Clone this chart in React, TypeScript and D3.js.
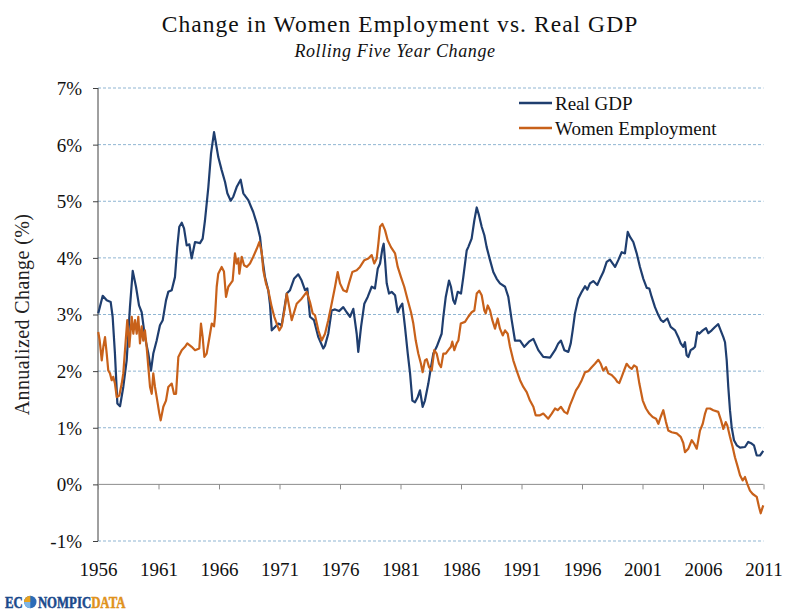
import { useRef, useEffect } from "react";
import * as d3 from "d3";

// Rolling five year annualized change (decimal year, %)
const gdpYears = [
  1956.02, 1956.39, 1956.72, 1957.05, 1957.21, 1957.4, 1957.6, 1957.82, 1958.09, 1958.37,
  1958.64, 1958.87, 1959.14, 1959.39, 1959.61, 1959.88, 1960.16, 1960.38, 1960.57, 1960.85,
  1961.12, 1961.35, 1961.62, 1961.81, 1962.09, 1962.36, 1962.55, 1962.72, 1962.92, 1963.11,
  1963.33, 1963.55, 1963.74, 1964.02, 1964.43, 1964.65, 1964.84, 1965.12, 1965.34, 1965.59,
  1965.75, 1965.94, 1966.22, 1966.5, 1966.69, 1966.97, 1967.18, 1967.46, 1967.79, 1968.01,
  1968.42, 1968.83, 1969.12, 1969.39, 1969.53, 1969.8, 1970.07, 1970.21, 1970.36, 1970.63,
  1970.9, 1971.18, 1971.6, 1971.87, 1972.2, 1972.55, 1972.83, 1973.11, 1973.3, 1973.52,
  1973.85, 1974.21, 1974.62, 1974.76, 1975.03, 1975.31, 1975.59, 1975.92, 1976.27, 1976.55,
  1976.83, 1977.1, 1977.38, 1977.51, 1977.74, 1978.01, 1978.29, 1978.62, 1978.89, 1979.12,
  1979.31, 1979.5, 1979.61, 1979.72, 1979.86, 1980.05, 1980.27, 1980.55, 1980.77, 1980.96,
  1981.15, 1981.37, 1981.6, 1981.79, 1981.98, 1982.2, 1982.42, 1982.61, 1982.83, 1983.02,
  1983.3, 1983.52, 1983.71, 1983.99, 1984.4, 1984.54, 1984.74, 1985.01, 1985.17, 1985.36,
  1985.5, 1985.73, 1986.0, 1986.19, 1986.47, 1986.6, 1986.88, 1987.1, 1987.3, 1987.49,
  1987.71, 1987.93, 1988.12, 1988.4, 1988.67, 1988.95, 1989.22, 1989.64, 1989.91, 1990.19,
  1990.46, 1990.88, 1991.23, 1991.62, 1991.98, 1992.39, 1992.8, 1993.36, 1993.77, 1994.04,
  1994.26, 1994.54, 1994.87, 1995.07, 1995.23, 1995.42, 1995.69, 1995.98, 1996.25, 1996.44,
  1996.66, 1996.93, 1997.26, 1997.49, 1997.76, 1998.04, 1998.31, 1998.54, 1998.73, 1999.0,
  1999.28, 1999.55, 1999.78, 1999.97, 2000.24, 2000.52, 2000.79, 2001.07, 2001.35, 2001.56,
  2001.76, 2002.03, 2002.31, 2002.53, 2002.72, 2003.05, 2003.33, 2003.69, 2003.96, 2004.16,
  2004.37, 2004.51, 2004.65, 2004.79, 2004.98, 2005.2, 2005.34, 2005.53, 2005.69, 2005.98,
  2006.25, 2006.44, 2006.72, 2006.99, 2007.26, 2007.46, 2007.68, 2007.82, 2007.96, 2008.09,
  2008.23, 2008.37, 2008.56, 2008.79, 2009.06, 2009.47, 2009.74, 2010.02, 2010.21, 2010.44,
  2010.71, 2010.98,
];
const gdpValues = [
  3.02, 3.33, 3.25, 3.22, 2.96, 2.31, 1.43, 1.38, 1.72, 2.19,
  3.13, 3.77, 3.49, 3.16, 3.04, 2.6, 2.31, 2.01, 2.31, 2.54,
  2.81, 2.9, 3.25, 3.4, 3.43, 3.66, 4.19, 4.55, 4.62, 4.52,
  4.22, 4.24, 3.99, 4.28, 4.26, 4.34, 4.66, 5.25, 5.84, 6.22,
  6.02, 5.78, 5.55, 5.34, 5.14, 5.01, 5.08, 5.25, 5.38, 5.14,
  5.02, 4.81, 4.61, 4.37, 4.08, 3.66, 3.43, 3.19, 2.72, 2.78,
  2.84, 2.81, 3.37, 3.43, 3.63, 3.71, 3.6, 3.43, 3.46, 2.96,
  2.9, 2.6, 2.4, 2.45, 2.66, 3.07, 3.09, 3.06, 3.13, 3.04,
  2.96, 3.1, 2.66, 2.34, 2.78, 3.19, 3.31, 3.49, 3.46, 3.81,
  3.9, 4.16, 4.25, 3.96, 3.55, 3.37, 3.4, 3.34, 3.04, 3.13,
  3.19, 2.78, 2.31, 1.96, 1.48, 1.45, 1.54, 1.66, 1.37, 1.48,
  1.78, 2.07, 2.31, 2.43, 2.66, 2.96, 3.31, 3.6, 3.49, 3.25,
  3.19, 3.4, 3.37, 3.66, 4.13, 4.19, 4.34, 4.66, 4.89, 4.75,
  4.55, 4.4, 4.19, 3.96, 3.75, 3.63, 3.55, 3.49, 3.31, 2.9,
  2.54, 2.54, 2.43, 2.52, 2.57, 2.37, 2.25, 2.24, 2.37, 2.49,
  2.54, 2.37, 2.34, 2.49, 2.72, 3.02, 3.28, 3.4, 3.5, 3.44,
  3.55, 3.59, 3.52, 3.63, 3.75, 3.93, 3.97, 3.9, 3.84, 3.96,
  4.1, 4.08, 4.46, 4.37, 4.28, 4.08, 3.84, 3.63, 3.47, 3.46,
  3.31, 3.13, 2.99, 2.9, 2.87, 2.93, 2.78, 2.72, 2.6, 2.49,
  2.43, 2.51, 2.28, 2.25, 2.37, 2.4, 2.43, 2.69, 2.66, 2.72,
  2.76, 2.67, 2.72, 2.78, 2.83, 2.72, 2.6, 2.51, 2.19, 1.72,
  1.31, 1.01, 0.78, 0.69, 0.65, 0.66, 0.75, 0.72, 0.69, 0.51,
  0.51, 0.59,
];

const womenYears = [
  1956.02, 1956.14, 1956.31, 1956.44, 1956.58, 1956.72, 1956.85, 1956.99, 1957.13, 1957.26,
  1957.4, 1957.55, 1957.76, 1957.96, 1958.09, 1958.29, 1958.42, 1958.59, 1958.79, 1958.92,
  1959.06, 1959.2, 1959.33, 1959.47, 1959.61, 1959.74, 1959.88, 1960.02, 1960.16, 1960.3,
  1960.44, 1960.57, 1960.71, 1960.85, 1961.07, 1961.18, 1961.4, 1961.62, 1961.81, 1962.09,
  1962.28, 1962.45, 1962.64, 1962.92, 1963.19, 1963.38, 1963.74, 1964.02, 1964.37, 1964.51,
  1964.65, 1964.79, 1964.98, 1965.26, 1965.4, 1965.59, 1965.67, 1965.81, 1965.94, 1966.22,
  1966.41, 1966.58, 1966.77, 1966.97, 1967.13, 1967.32, 1967.46, 1967.6, 1967.68, 1967.88,
  1968.07, 1968.29, 1968.56, 1968.83, 1969.12, 1969.33, 1969.53, 1969.66, 1969.88, 1970.07,
  1970.36, 1970.57, 1970.77, 1970.98, 1971.18, 1971.45, 1971.6, 1971.81, 1972.01, 1972.42,
  1972.83, 1973.25, 1973.52, 1973.74, 1973.93, 1974.21, 1974.49, 1974.76, 1975.03, 1975.31,
  1975.59, 1975.81, 1976.0, 1976.27, 1976.55, 1976.74, 1977.02, 1977.38, 1977.65, 1978.01,
  1978.34, 1978.62, 1978.83, 1979.03, 1979.17, 1979.31, 1979.5, 1979.72, 1979.94, 1980.21,
  1980.55, 1980.77, 1981.04, 1981.31, 1981.6, 1981.87, 1982.06, 1982.26, 1982.47, 1982.69,
  1982.83, 1983.02, 1983.17, 1983.36, 1983.58, 1983.79, 1983.99, 1984.18, 1984.35, 1984.54,
  1984.74, 1984.95, 1985.17, 1985.28, 1985.45, 1985.64, 1985.78, 1985.98, 1986.33, 1986.6,
  1986.88, 1987.1, 1987.3, 1987.51, 1987.71, 1987.93, 1988.04, 1988.21, 1988.4, 1988.59,
  1988.81, 1989.03, 1989.22, 1989.45, 1989.64, 1989.86, 1990.05, 1990.32, 1990.6, 1990.88,
  1991.15, 1991.43, 1991.7, 1991.98, 1992.17, 1992.53, 1992.8, 1993.21, 1993.5, 1993.77,
  1993.99, 1994.26, 1994.54, 1994.78, 1995.01, 1995.28, 1995.5, 1995.69, 1995.98, 1996.25,
  1996.52, 1996.8, 1997.07, 1997.35, 1997.55, 1997.76, 1997.98, 1998.17, 1998.45, 1998.73,
  1998.92, 1999.08, 1999.28, 1999.47, 1999.69, 1999.91, 2000.11, 2000.3, 2000.52, 2000.74,
  2001.02, 2001.29, 2001.56, 2001.84, 2002.12, 2002.31, 2002.5, 2002.72, 2002.94, 2003.13,
  2003.41, 2003.83, 2004.16, 2004.37, 2004.51, 2004.79, 2005.07, 2005.26, 2005.48, 2005.61,
  2005.75, 2005.98, 2006.17, 2006.31, 2006.58, 2006.85, 2007.26, 2007.49, 2007.68, 2007.88,
  2008.01, 2008.23, 2008.45, 2008.64, 2008.87, 2009.06, 2009.28, 2009.47, 2009.66, 2009.88,
  2010.11, 2010.44, 2010.63, 2010.77, 2010.98,
];
const womenValues = [
  2.69, 2.54, 2.19, 2.43, 2.6, 2.31, 2.01, 1.96, 1.84, 1.9,
  1.78, 1.54, 1.57, 1.78, 1.96, 2.54, 2.9, 2.43, 2.96, 2.66,
  2.9, 2.66, 2.96, 2.49, 2.79, 2.54, 2.72, 2.43, 2.07, 1.72,
  1.6, 1.96, 1.72, 1.54, 1.25, 1.13, 1.37, 1.48, 1.72, 1.78,
  1.6, 1.6, 2.25, 2.37, 2.43, 2.49, 2.43, 2.37, 2.4, 2.84,
  2.6, 2.25, 2.31, 2.66, 2.84, 2.79, 2.96, 3.49, 3.72, 3.84,
  3.76, 3.31, 3.49, 3.55, 3.6, 4.08, 3.9, 3.99, 3.72, 4.02,
  3.87, 3.84, 3.9, 4.02, 4.16, 4.28, 4.1, 3.78, 3.55, 3.43,
  3.13, 2.96, 2.84, 2.72, 2.79, 3.13, 3.37, 3.13, 2.9, 3.19,
  3.28, 3.4, 3.22, 3.02, 2.99, 2.72, 2.54, 2.66, 2.9, 3.19,
  3.49, 3.75, 3.55, 3.43, 3.4, 3.55, 3.75, 3.78, 3.84, 3.96,
  3.99, 4.05, 3.9, 3.99, 4.25, 4.55, 4.6, 4.49, 4.31, 4.19,
  4.08, 3.84, 3.66, 3.49, 3.25, 3.04, 2.84, 2.54, 2.31, 2.13,
  1.98, 2.19, 2.21, 2.07, 2.01, 2.37, 2.31, 2.13, 2.07, 2.31,
  2.31, 2.37, 2.43, 2.52, 2.37, 2.49, 2.54, 2.84, 2.87, 2.96,
  3.04, 3.07, 3.37, 3.42, 3.34, 3.07, 3.02, 3.16, 3.07, 2.9,
  2.75, 2.93, 2.75, 2.63, 2.72, 2.66, 2.43, 2.19, 2.01, 1.84,
  1.72, 1.63, 1.48, 1.37, 1.22, 1.22, 1.25, 1.16, 1.25, 1.34,
  1.31, 1.37, 1.28, 1.25, 1.4, 1.54, 1.66, 1.72, 1.84, 1.98,
  2.0, 2.07, 2.13, 2.2, 2.13, 2.01, 2.07, 1.96, 1.93, 1.87,
  1.81, 1.79, 1.9, 2.01, 2.13, 2.07, 2.04, 2.1, 2.07, 1.78,
  1.48, 1.34, 1.25, 1.19, 1.16, 1.07, 1.19, 1.31, 1.1, 0.95,
  0.92, 0.9, 0.84, 0.73, 0.57, 0.63, 0.78, 0.72, 0.63, 0.78,
  0.95, 1.07, 1.25, 1.34, 1.34, 1.31, 1.28, 1.13, 0.98, 1.1,
  1.04, 0.84, 0.66, 0.48, 0.31, 0.16, 0.07, 0.13, 0.01, -0.11,
  -0.17, -0.22, -0.4, -0.51, -0.37,
];

const xTickYears = [1956, 1961, 1966, 1971, 1976, 1981, 1986, 1991, 1996, 2001, 2006, 2011];
const yTicks = [-1, 0, 1, 2, 3, 4, 5, 6, 7];

const series = [
  { name: "Real GDP", color: "#1f3e6f", years: gdpYears, values: gdpValues },
  { name: "Women Employment", color: "#c8611a", years: womenYears, values: womenValues },
];

const SERIF = "'Liberation Serif', 'Times New Roman', serif";

export default function App() {
  const svgRef = useRef<SVGSVGElement>(null);
  const W = 800;
  const H = 611;

  useEffect(() => {
    if (!svgRef.current) return;
    const svg = d3.select(svgRef.current);
    svg.selectAll("*").remove();

    const m = { left: 98, right: 763.5, top: 88, bottom: 541 };
    const x = d3.scaleLinear().domain([1956, 2011]).range([m.left, m.right]);
    const y = d3.scaleLinear().domain([-1, 7]).range([m.bottom, m.top]);

    svg.append("rect").attr("width", W).attr("height", H).attr("fill", "#fff");

    // Title
    svg.append("text")
      .attr("x", 400).attr("y", 32).attr("text-anchor", "middle")
      .attr("font-family", SERIF).attr("font-size", 23.5).attr("letter-spacing", 1.05)
      .attr("fill", "#111").text("Change in Women Employment vs. Real GDP");
    svg.append("text")
      .attr("x", 395).attr("y", 57).attr("text-anchor", "middle")
      .attr("font-family", SERIF).attr("font-size", 18).attr("font-style", "italic")
      .attr("letter-spacing", 0.6).attr("fill", "#111").text("Rolling Five Year Change");

    // Gridlines (dashed), skip 0 which is the category axis
    svg.append("g").selectAll("line")
      .data(yTicks.filter((t) => t !== 0))
      .join("line")
      .attr("x1", m.left).attr("x2", m.right)
      .attr("y1", (d) => y(d)).attr("y2", (d) => y(d))
      .attr("stroke", "#8fb5d2").attr("stroke-width", 1).attr("stroke-dasharray", "3,2");

    // Y axis
    const yAxis = d3.axisLeft(y).tickValues(yTicks).tickSize(5).tickFormat((d) => `${d}%`);
    const gy = svg.append("g").attr("transform", `translate(${m.left},0)`).call(yAxis);
    gy.attr("font-family", SERIF);
    gy.select(".domain").attr("stroke", "#404040").attr("d", `M0,${m.top}V${m.bottom}`);
    gy.selectAll(".tick line").attr("stroke", "#404040");
    gy.selectAll(".tick text")
      .attr("font-family", SERIF).attr("font-size", 19).attr("fill", "#111")
      .attr("x", -16).attr("dy", "0.34em");

    // X axis at 0%
    const xAxis = d3.axisBottom(x).tickValues(xTickYears).tickSize(5).tickFormat((d) => `${d}`);
    const gx = svg.append("g").attr("transform", `translate(0,${y(0)})`).call(xAxis);
    gx.attr("font-family", SERIF);
    gx.select(".domain").attr("stroke", "#8c8c8c").attr("d", `M${m.left},0H${m.right}`);
    gx.selectAll(".tick line").attr("stroke", "#8c8c8c");
    gx.selectAll(".tick text")
      .attr("font-family", SERIF).attr("font-size", 19).attr("fill", "#111")
      .attr("y", m.bottom - y(0) + 22).attr("dy", "0.71em");

    // Y title
    svg.append("text")
      .attr("transform", `translate(29,${(m.top + m.bottom) / 2}) rotate(-90)`)
      .attr("text-anchor", "middle")
      .attr("font-family", SERIF).attr("font-size", 20).attr("letter-spacing", 0.4)
      .attr("fill", "#222").text("Annualized Change (%)");

    // Lines
    series.forEach((s) => {
      const pts = s.years.map((yr, i) => [yr, s.values[i]] as [number, number]);
      const line = d3.line<[number, number]>().x((d) => x(d[0])).y((d) => y(d[1]));
      svg.append("path").datum(pts)
        .attr("fill", "none").attr("stroke", s.color).attr("stroke-width", 2.2)
        .attr("stroke-linejoin", "round").attr("d", line);
    });

    // Legend
    series.forEach((s, i) => {
      const ly = 103 + i * 25;
      svg.append("line")
        .attr("x1", 519).attr("x2", 552).attr("y1", ly).attr("y2", ly)
        .attr("stroke", s.color).attr("stroke-width", 2.5);
      svg.append("text")
        .attr("x", 555).attr("y", ly + 6.5)
        .attr("font-family", SERIF).attr("font-size", 19).attr("fill", "#111")
        .text(s.name);
    });

    // Logo: one text, squeezed horizontally, with a small globe in place of the "O"
    const globe = svg.append("g").attr("transform", "translate(30.3,602)");
    globe.append("circle").attr("r", 6.2).attr("fill", "#2c6cb8");
    globe.append("path").attr("d", "M-6.2,0 A6.2,6.2 0 0 1 0,-6.2 L0,0 Z").attr("fill", "#e8a21f");
    globe.append("path").attr("d", "M0,6.2 A6.2,6.2 0 0 1 -6.2,0 L0,0 Z").attr("fill", "#7fb6e6");
    const logo = svg.append("g").attr("transform", "translate(5,608) scale(0.8,1)")
      .append("text")
      .attr("font-family", SERIF).attr("font-weight", "900").attr("font-size", 16)
      .attr("stroke-width", 0.5);
    logo.append("tspan").attr("fill", "#1b4a8c").attr("stroke", "#1b4a8c").text("EC");
    logo.append("tspan").attr("dx", 18.9).attr("fill", "#1b4a8c").attr("stroke", "#1b4a8c").text("NOMPIC");
    logo.append("tspan").attr("fill", "#e0921c").attr("stroke", "#e0921c").text("DATA");
  }, []);

  return (
    <svg ref={svgRef} width={W} height={H}
      style={{ position: "absolute", left: 0, top: 0, display: "block" }} />
  );
}
